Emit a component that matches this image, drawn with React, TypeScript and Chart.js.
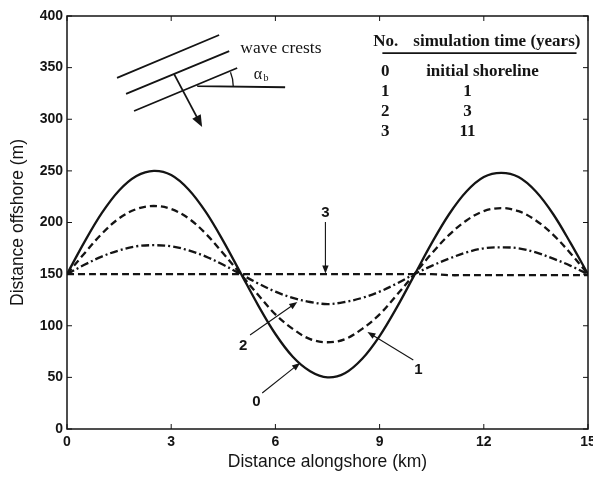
import React, { useEffect, useRef } from "react";
import { Chart, registerables } from "chart.js";

Chart.register(...registerables);

// Distance alongshore (km)
const xKm = [0, 0.5, 1, 1.5, 2, 2.5, 3, 3.5, 4, 4.5, 5, 5.5, 6, 6.5, 7, 7.5, 8, 8.5, 9, 9.5, 10, 10.5, 11, 11.5, 12, 12.5, 13, 13.5, 14, 14.5, 15];
// Shoreline position (m) for each simulation
const shore0 = [150, 181, 209, 231, 245, 250, 246, 232, 210, 182, 151, 120, 92, 70, 56, 50, 54, 68, 90, 118, 149, 180, 208, 230, 244, 248, 244, 230, 208, 180, 150];
const shore1 = [150, 170, 189, 204, 213, 216, 213, 204, 189, 170, 150, 130, 111, 97, 87, 84, 87, 97, 111, 130, 150, 170, 188, 202, 211, 214, 211, 202, 188, 170, 150];
const shore2 = [150, 159, 167, 173, 177, 178, 177, 173, 167, 159, 150, 141, 133, 127, 123, 121, 123, 127, 133, 141, 150, 158, 165, 171, 175, 176, 175, 171, 165, 158, 150];
const shore3 = [150, 150, 150, 150, 150, 150, 150, 150, 150, 150, 150, 150, 150, 150, 150, 150, 150, 150, 150, 150, 150, 150, 149, 149, 149, 149, 149, 149, 149, 149, 149];

const xTicks = [0, 3, 6, 9, 12, 15];
const yTicks = [0, 50, 100, 150, 200, 250, 300, 350, 400];

const tableNo = ["0", "1", "2", "3"];
const tableTime = ["initial shoreline", "1", "3", "11"];

const INK = "#141414";

function pts(ys: number[]) {
  return xKm.map((x, i) => ({ x, y: ys[i] }));
}

function arrow(ctx: CanvasRenderingContext2D, x1: number, y1: number, x2: number, y2: number, lw: number, head: number) {
  const ang = Math.atan2(y2 - y1, x2 - x1);
  ctx.save();
  ctx.strokeStyle = INK;
  ctx.fillStyle = INK;
  ctx.lineWidth = lw;
  ctx.setLineDash([]);
  ctx.beginPath();
  ctx.moveTo(x1, y1);
  ctx.lineTo(x2 - Math.cos(ang) * head * 0.6, y2 - Math.sin(ang) * head * 0.6);
  ctx.stroke();
  ctx.beginPath();
  ctx.moveTo(x2, y2);
  ctx.lineTo(x2 - head * Math.cos(ang) + (head * 0.4) * Math.sin(ang), y2 - head * Math.sin(ang) - (head * 0.4) * Math.cos(ang));
  ctx.lineTo(x2 - head * Math.cos(ang) - (head * 0.4) * Math.sin(ang), y2 - head * Math.sin(ang) + (head * 0.4) * Math.cos(ang));
  ctx.closePath();
  ctx.fill();
  ctx.restore();
}

const annotPlugin = {
  id: "annot",
  afterDatasetsDraw(chart: any) {
    const ctx: CanvasRenderingContext2D = chart.ctx;
    const xs = chart.scales.x;
    const ys = chart.scales.y;
    const X = (v: number) => xs.getPixelForValue(v);
    const Y = (v: number) => ys.getPixelForValue(v);
    const a = chart.chartArea;

    ctx.save();
    // frame
    ctx.strokeStyle = INK;
    ctx.lineWidth = 1.5;
    ctx.setLineDash([]);
    ctx.strokeRect(a.left, a.top, a.right - a.left, a.bottom - a.top);
    // inner ticks
    ctx.lineWidth = 1;
    ctx.beginPath();
    xTicks.forEach((t) => {
      const p = X(t);
      ctx.moveTo(p, a.bottom);
      ctx.lineTo(p, a.bottom - 5);
      ctx.moveTo(p, a.top);
      ctx.lineTo(p, a.top + 5);
    });
    yTicks.forEach((t) => {
      const p = Y(t);
      ctx.moveTo(a.left, p);
      ctx.lineTo(a.left + 5, p);
      ctx.moveTo(a.right, p);
      ctx.lineTo(a.right - 5, p);
    });
    ctx.stroke();

    // wave crest sketch
    ctx.lineWidth = 1.8;
    ctx.beginPath();
    ctx.moveTo(X(1.44), Y(340)); ctx.lineTo(X(4.38), Y(381.6));
    ctx.moveTo(X(1.70), Y(324.5)); ctx.lineTo(X(4.67), Y(366));
    ctx.moveTo(X(1.93), Y(308)); ctx.lineTo(X(4.90), Y(349.6));
    ctx.moveTo(X(3.75), Y(332)); ctx.lineTo(X(6.28), Y(331));
    ctx.stroke();
    // angle arc
    const vx = X(3.75), vy = Y(332);
    const ang = Math.atan2(Y(349.6) - Y(308), X(4.90) - X(1.93));
    ctx.lineWidth = 1.3;
    ctx.beginPath();
    ctx.arc(vx, vy, 36, ang, 0);
    ctx.stroke();
    arrow(ctx, X(3.08), Y(344), X(3.89), Y(292.5), 1.8, 12);

    ctx.fillStyle = INK;
    ctx.textBaseline = "middle";
    ctx.textAlign = "left";
    ctx.font = "17.5px 'Liberation Serif'";
    ctx.fillText("wave crests", X(4.99), Y(369));
    ctx.font = "16px 'Liberation Serif'";
    ctx.fillText("\u03b1", X(5.38), Y(343));
    ctx.font = "10px 'Liberation Serif'";
    ctx.fillText("b", X(5.66), Y(339.5));

    // table
    ctx.font = "bold 17px 'Liberation Serif'";
    ctx.textAlign = "left";
    ctx.fillText("No.", X(8.82), Y(374.8));
    ctx.fillText("simulation time (years)", X(9.97), Y(374.8));
    ctx.lineWidth = 1.8;
    ctx.beginPath();
    ctx.moveTo(X(9.08), Y(364));
    ctx.lineTo(X(14.67), Y(364));
    ctx.stroke();
    const rowY = [345.8, 326.4, 307, 287.6];
    ctx.textAlign = "center";
    tableNo.forEach((n, i) => {
      ctx.fillText(n, X(9.16), Y(rowY[i]));
      ctx.fillText(tableTime[i], i === 0 ? X(11.96) : X(11.53), Y(rowY[i]));
    });

    // curve labels
    ctx.font = "bold 15px 'Liberation Sans'";
    ctx.textAlign = "center";
    ctx.fillText("3", X(7.44), Y(209));
    ctx.fillText("1", X(10.12), Y(57));
    ctx.fillText("2", X(5.07), Y(81));
    ctx.fillText("0", X(5.45), Y(26));
    arrow(ctx, X(7.44), Y(200.5), X(7.44), Y(150.5), 1.1, 8);
    arrow(ctx, X(9.97), Y(66.8), X(8.65), Y(94), 1.1, 8);
    arrow(ctx, X(5.27), Y(91), X(6.63), Y(123), 1.1, 8);
    arrow(ctx, X(5.62), Y(34.9), X(6.71), Y(64), 1.1, 8);
    ctx.restore();
  },
};

export default function App() {
  const ref = useRef<HTMLCanvasElement | null>(null);
  useEffect(() => {
    if (!ref.current) return;
    const base = { borderColor: INK, borderWidth: 2.3, pointRadius: 0, tension: 0.35, fill: false };
    const chart = new Chart(ref.current, {
      type: "line",
      data: {
        datasets: [
          { ...base, label: "0", data: pts(shore0) },
          { ...base, label: "1", data: pts(shore1), borderDash: [7, 4] },
          { ...base, label: "2", data: pts(shore2), borderDash: [8, 3, 2, 3] },
          { ...base, label: "3", data: pts(shore3), borderDash: [7, 4] },
        ],
      },
      options: {
        responsive: false,
        animation: false,
        layout: { padding: { top: 16, right: 5, left: 0, bottom: 0 } },
        plugins: { legend: { display: false }, tooltip: { enabled: false } },
        scales: {
          x: {
            type: "linear",
            min: 0,
            max: 15,
            afterBuildTicks: (s: any) => { s.ticks = xTicks.map((v) => ({ value: v })); },
            afterFit: (s: any) => { s.height = 49; s.paddingLeft = 0; s.paddingRight = 0; },
            grid: { display: false, drawTicks: false },
            border: { display: false },
            ticks: { color: INK, padding: 5, font: { family: "'Liberation Sans'", size: 14, weight: "bold" }, maxRotation: 0, autoSkip: false },
            title: { display: true, text: "Distance alongshore (km)", color: INK, font: { family: "'Liberation Sans'", size: 17.5 }, padding: { top: 0, bottom: 5 } },
          },
          y: {
            type: "linear",
            min: 0,
            max: 400,
            afterBuildTicks: (s: any) => { s.ticks = yTicks.map((v) => ({ value: v })); },
            afterFit: (s: any) => { s.width = 67; s.paddingTop = 0; s.paddingBottom = 0; },
            grid: { display: false, drawTicks: false },
            border: { display: false },
            ticks: { color: INK, padding: 4, font: { family: "'Liberation Sans'", size: 14, weight: "bold" }, autoSkip: false },
            title: { display: true, text: "Distance offshore (m)", color: INK, font: { family: "'Liberation Sans'", size: 17.5 }, padding: { top: 8, bottom: 0 } },
          },
        },
      },
      plugins: [annotPlugin],
    });
    return () => chart.destroy();
  }, []);
  return (
    <div style={{ position: "absolute", left: 0, top: 0, width: 593, height: 478, background: "#fff" }}>
      <canvas ref={ref} width={593} height={478} style={{ display: "block", width: 593, height: 478 }} />
    </div>
  );
}
